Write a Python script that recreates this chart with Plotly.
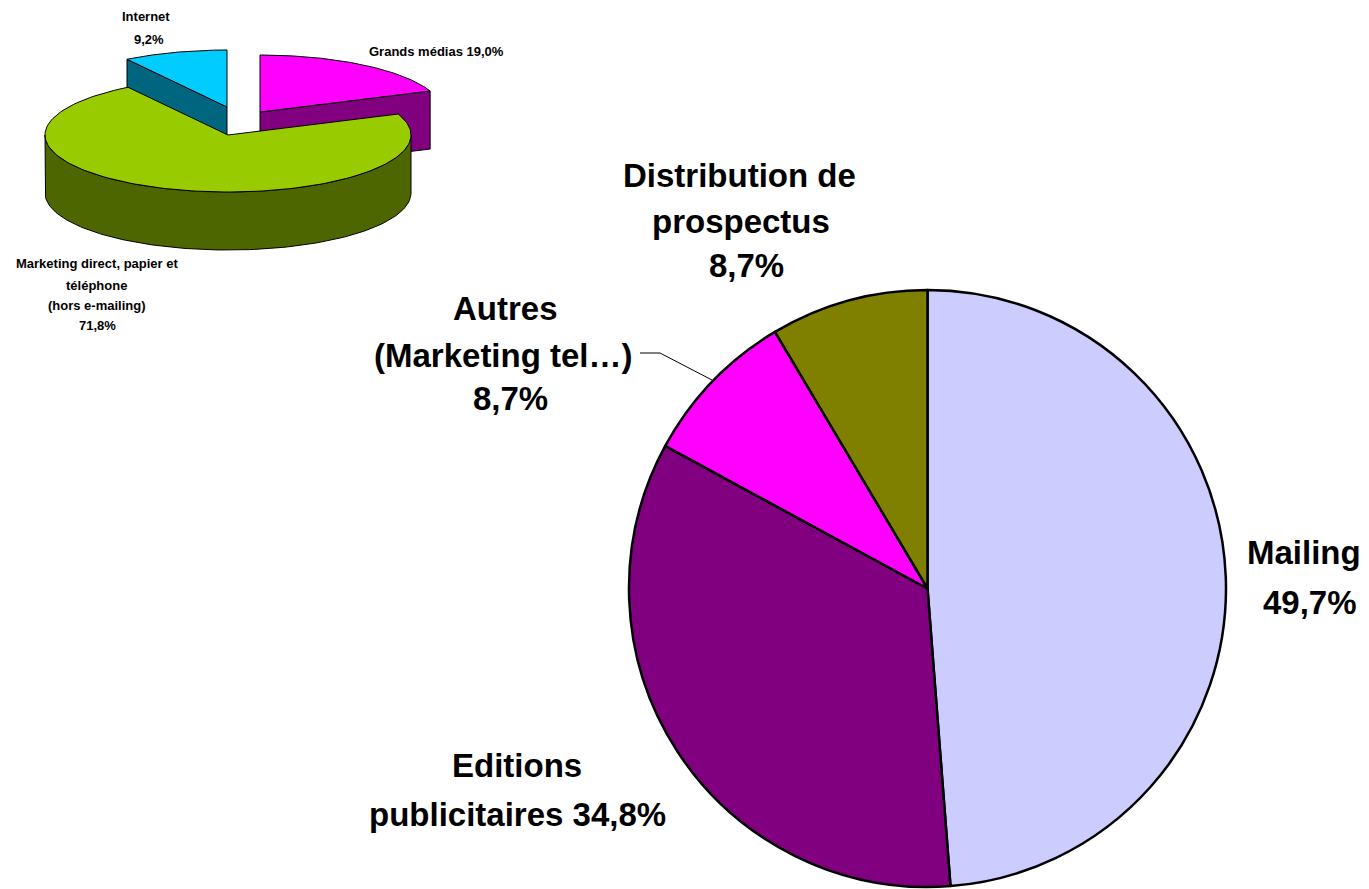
import numpy as np
import plotly.graph_objects as go

# --- small 3-D pie (top left), slices clockwise from 12 o'clock
small_labels = ["Grands médias", "Marketing direct, papier et téléphone (hors e-mailing)", "Internet"]
small_values = [19.0, 71.8, 9.2]
small_top = ["#FF00FF", "#99CC00", "#00CCFF"]
small_side = ["#800080", "#4D6600", "#006680"]
small_shift = [(32, -23), (0, 0), (-1, -28)]   # exploded slices

small_text = [
    (["Internet", "9,2%"], [(146, 16), (149, 39)]),
    (["Grands médias 19,0%"], [(436, 51)]),
    (["Marketing direct, papier et", "téléphone", "(hors e-mailing)", "71,8%"],
     [(97, 263), (96, 285), (97, 305), (97, 325)]),
]

# --- main pie
big_labels = ["Mailing", "Editions publicitaires", "Autres (Marketing tel…)", "Distribution de prospectus"]
big_values = [49.7, 34.8, 8.7, 8.7]
big_colors = ["#CCCCFF", "#800080", "#FF00FF", "#808000"]

big_text = [
    (["Mailing", "49,7%"], [(1304, 552), (1310, 602)]),
    (["Editions", "publicitaires 34,8%"], [(517, 765), (517, 814)]),
    (["Autres", "(Marketing tel…)", "8,7%"], [(505, 308), (503, 355), (510, 398)]),
    (["Distribution de", "prospectus", "8,7%"], [(739, 175), (741, 221), (746, 265)]),
]

W, H = 1369, 889
FONT = "Liberation Sans, Arial, sans-serif"

fig = go.Figure()

# 3-D pie geometry (pixel space)
cx, cy, rx, ry, depth = 228, 135, 183, 57, 58
fr = np.cumsum([0] + small_values) / sum(small_values) * 2 * np.pi


def rim(t, dx, dy, dz=0):
    return cx + dx + rx * np.sin(t), cy + dy - ry * np.cos(t) + dz


def poly(xs, ys, color):
    fig.add_trace(go.Scatter(x=list(xs) + [xs[0]], y=list(ys) + [ys[0]], mode="lines",
                             fill="toself", fillcolor=color,
                             line=dict(color="black", width=1),
                             hoverinfo="skip", showlegend=False))


mids = [(fr[i] + fr[i + 1]) / 2 for i in range(len(small_values))]
order = sorted(range(len(small_values)), key=lambda i: -np.cos(mids[i]))
for i in order:
    a0, a1 = fr[i], fr[i + 1]
    dx, dy = small_shift[i]
    c = (cx + dx, cy + dy)
    # radial faces that face the viewer
    for a, vis in ((a0, np.sin(a0) < -1e-6), (a1, np.sin(a1) > 1e-6)):
        if vis:
            px, py = rim(a, dx, dy)
            poly([c[0], px, px, c[0]], [c[1], py, py + depth, c[1] + depth], small_side[i])
    # outer wall, front half only
    lo, hi = max(a0, np.pi / 2), min(a1, 3 * np.pi / 2)
    if hi > lo:
        t = np.linspace(lo, hi, 120)
        tx, ty = rim(t, dx, dy)
        poly(np.concatenate([tx, tx[::-1]]), np.concatenate([ty, ty[::-1] + depth]), small_side[i])
    # top face
    t = np.linspace(a0, a1, 150)
    tx, ty = rim(t, dx, dy)
    poly(np.concatenate([[c[0]], tx]), np.concatenate([[c[1]], ty]), small_top[i])

# main pie
pcx, pcy, pr = 927.5, 588.5, 298.5
fig.add_trace(go.Pie(
    labels=big_labels, values=big_values, sort=False, direction="clockwise", rotation=0,
    marker=dict(colors=big_colors, line=dict(color="black", width=2.5)),
    textinfo="none", showlegend=False,
    domain=dict(x=[(pcx - pr) / W, (pcx + pr) / W], y=[1 - (pcy + pr) / H, 1 - (pcy - pr) / H]),
))

annotations = []
for lines, pos in small_text:
    for s, (x, y) in zip(lines, pos):
        annotations.append(dict(x=x, y=y, xref="x", yref="y", text=s, showarrow=False,
                                font=dict(family=FONT, size=13, color="black", weight="bold")))
for lines, pos in big_text:
    for s, (x, y) in zip(lines, pos):
        annotations.append(dict(x=x, y=y, xref="x", yref="y", text=s, showarrow=False,
                                font=dict(family=FONT, size=33, color="black", weight="bold")))

fig.update_layout(
    width=W, height=H,
    margin=dict(l=0, r=0, t=0, b=0),
    paper_bgcolor="white", plot_bgcolor="white",
    xaxis=dict(range=[0, W], visible=False, fixedrange=True),
    yaxis=dict(range=[H, 0], visible=False, fixedrange=True),
    annotations=annotations,
    shapes=[dict(type="path", xref="x", yref="y", path="M 640,353 L 660,353 L 712,380",
                 line=dict(color="black", width=1))],
)

# drop the default page margin so the figure sits at the window origin
fig.write_html("out.html", config={"displayModeBar": False},
               post_script="document.body.style.margin='0';document.body.style.overflow='hidden';")
